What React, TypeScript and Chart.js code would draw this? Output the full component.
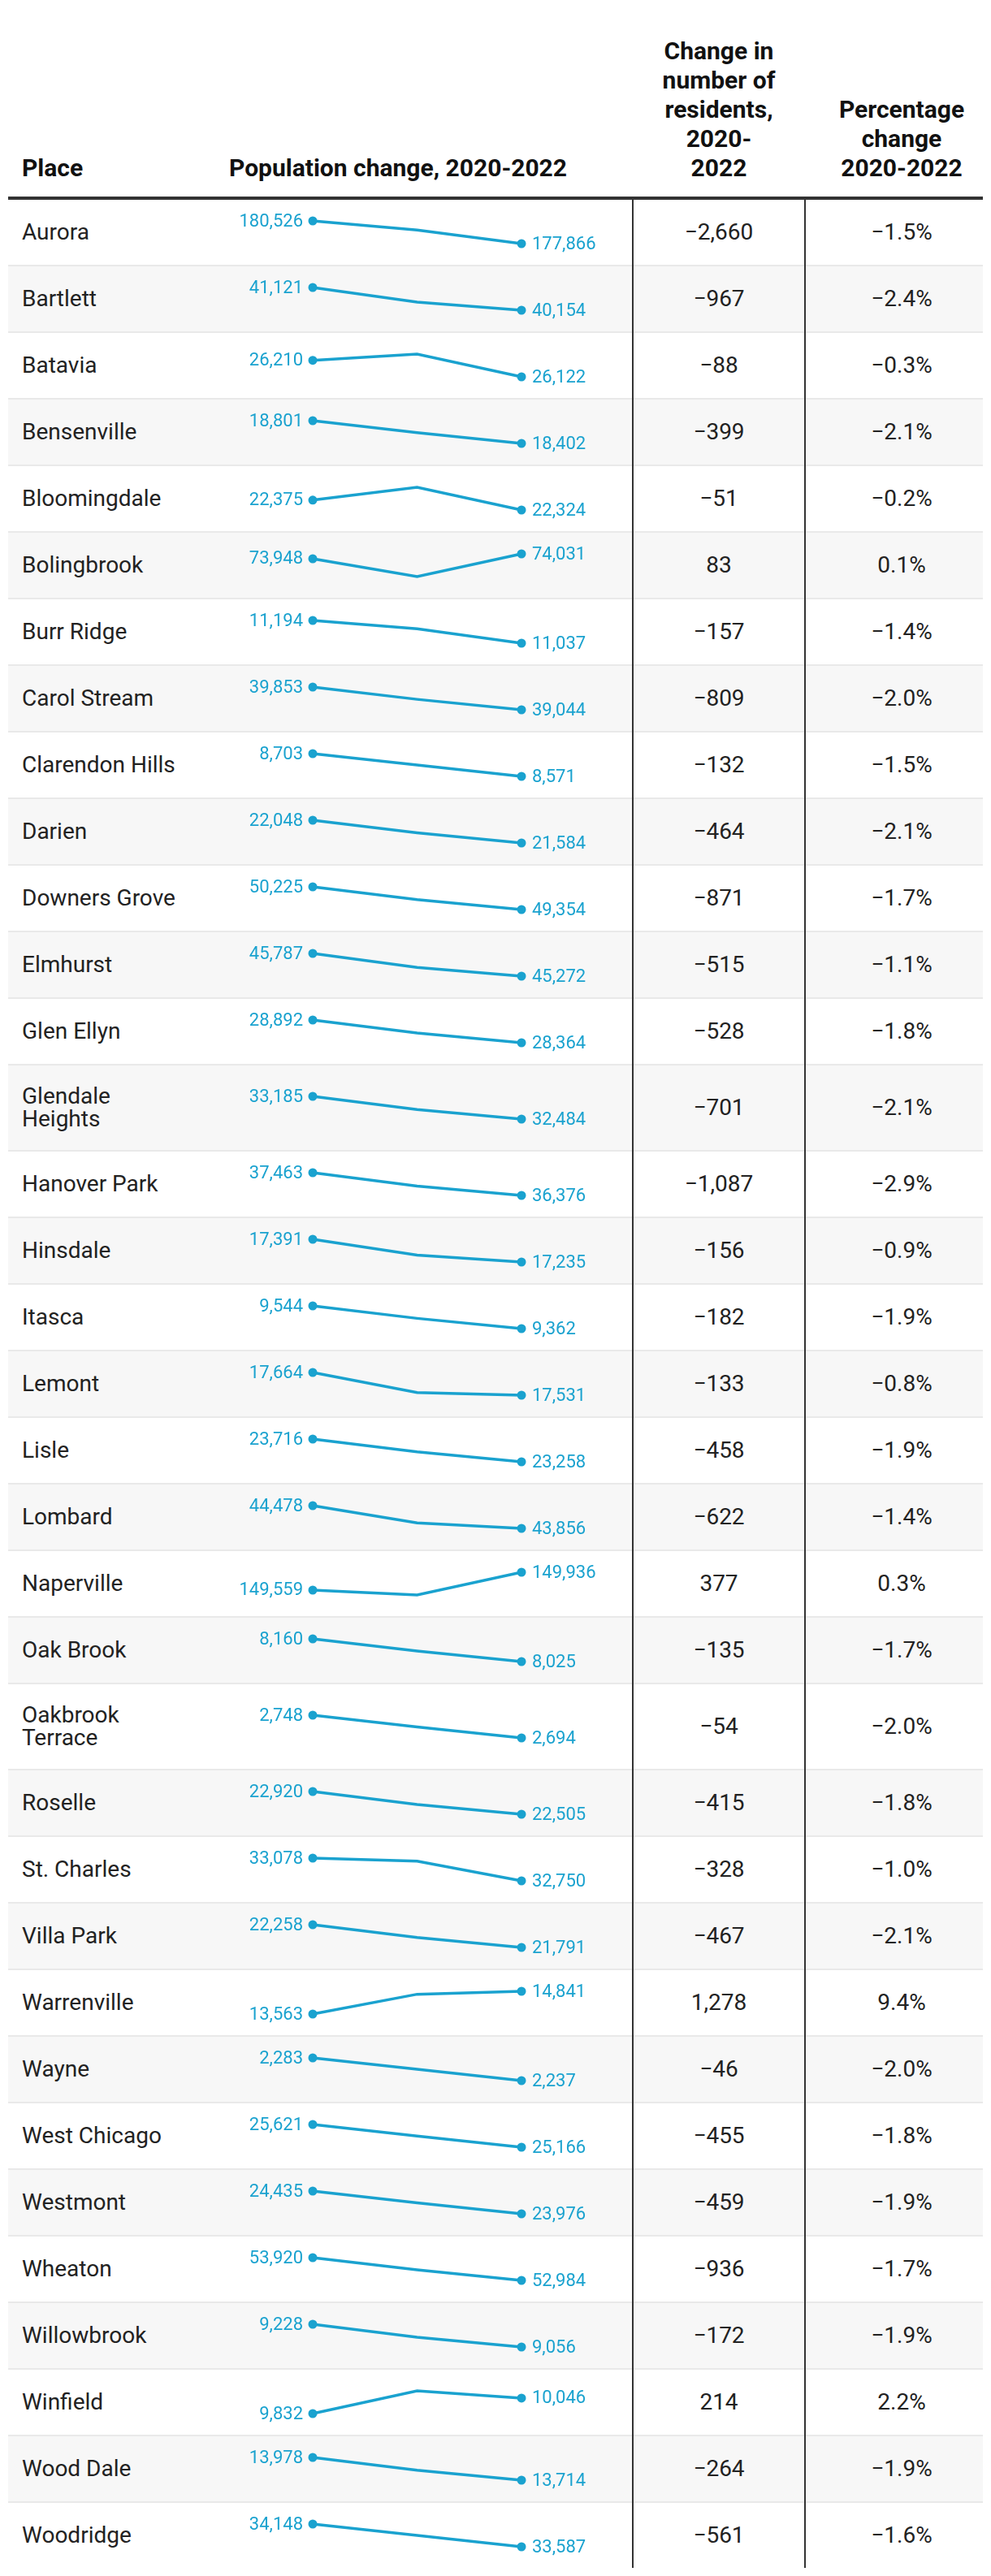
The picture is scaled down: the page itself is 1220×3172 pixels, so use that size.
import React, { useEffect, useRef } from "react";
import { Chart, registerables } from "chart.js";

Chart.register(...registerables);

const places = [
  "Aurora", "Bartlett", "Batavia", "Bensenville", "Bloomingdale", "Bolingbrook", "Burr Ridge",
  "Carol Stream", "Clarendon Hills", "Darien", "Downers Grove", "Elmhurst", "Glen Ellyn",
  "Glendale\nHeights", "Hanover Park", "Hinsdale", "Itasca", "Lemont", "Lisle", "Lombard",
  "Naperville", "Oak Brook", "Oakbrook\nTerrace", "Roselle", "St. Charles", "Villa Park",
  "Warrenville", "Wayne", "West Chicago", "Westmont", "Wheaton", "Willowbrook", "Winfield",
  "Wood Dale", "Woodridge",
];

const years = ["2020", "2021", "2022"];

const pop2020 = [
  180526, 41121, 26210, 18801, 22375, 73948, 11194, 39853, 8703, 22048, 50225, 45787, 28892,
  33185, 37463, 17391, 9544, 17664, 23716, 44478, 149559, 8160, 2748, 22920, 33078, 22258,
  13563, 2283, 25621, 24435, 53920, 9228, 9832, 13978, 34148,
];

const pop2021 = [
  179462, 40502, 26243, 18590, 22441, 73643, 11137, 39416, 8637, 21793, 49737, 45468, 28591,
  32778, 36822, 17283, 9444, 17547, 23460, 44005, 149456, 8088, 2720, 22683, 33035, 21997,
  14675, 2260, 25389, 24196, 53415, 9130, 10146, 13830, 33868,
];

const pop2022 = [
  177866, 40154, 26122, 18402, 22324, 74031, 11037, 39044, 8571, 21584, 49354, 45272, 28364,
  32484, 36376, 17235, 9362, 17531, 23258, 43856, 149936, 8025, 2694, 22505, 32750, 21791,
  14841, 2237, 25166, 23976, 52984, 9056, 10046, 13714, 33587,
];

const changeLabels = [
  "−2,660", "−967", "−88", "−399", "−51", "83", "−157", "−809", "−132", "−464", "−871", "−515",
  "−528", "−701", "−1,087", "−156", "−182", "−133", "−458", "−622", "377", "−135", "−54",
  "−415", "−328", "−467", "1,278", "−46", "−455", "−459", "−936", "−172", "214", "−264", "−561",
];

const pctLabels = [
  "−1.5%", "−2.4%", "−0.3%", "−2.1%", "−0.2%", "0.1%", "−1.4%", "−2.0%", "−1.5%", "−2.1%",
  "−1.7%", "−1.1%", "−1.8%", "−2.1%", "−2.9%", "−0.9%", "−1.9%", "−0.8%", "−1.9%", "−1.4%",
  "0.3%", "−1.7%", "−2.0%", "−1.8%", "−1.0%", "−2.1%", "9.4%", "−2.0%", "−1.8%", "−1.9%",
  "−1.7%", "−1.9%", "2.2%", "−1.9%", "−1.6%",
];

const BLUE = "#1aa2cf";
const FONT = "Roboto, 'Noto Sans', sans-serif";
const TEXT = "#222222";

const fmt = (v: number) => v.toLocaleString("en-US");

function Spark({ values, height }: { values: number[]; height: number }) {
  const ref = useRef<HTMLCanvasElement | null>(null);
  useEffect(() => {
    if (!ref.current) return;
    const padV = (height - 28) / 2;
    const labelPlugin = {
      id: "endLabels",
      afterDatasetsDraw(chart: any) {
        const meta = chart.getDatasetMeta(0);
        const data = chart.data.datasets[0].data as number[];
        const ctx = chart.ctx as CanvasRenderingContext2D;
        const first = meta.data[0];
        const last = meta.data[meta.data.length - 1];
        ctx.save();
        ctx.font = `22px ${FONT}`;
        ctx.fillStyle = BLUE;
        ctx.textBaseline = "alphabetic";
        ctx.textAlign = "right";
        ctx.fillText(fmt(data[0]), first.x - 12, first.y + 6.5);
        ctx.textAlign = "left";
        ctx.fillText(fmt(data[data.length - 1]), last.x + 13, last.y + 6.5);
        ctx.restore();
      },
    };
    const chart = new Chart(ref.current, {
      type: "line",
      data: {
        labels: years,
        datasets: [
          {
            data: values,
            borderColor: BLUE,
            borderWidth: 3.5,
            pointRadius: [5.5, 0, 5.5],
            pointHoverRadius: 0,
            pointBackgroundColor: BLUE,
            pointBorderWidth: 0,
            tension: 0,
            clip: false as any,
          },
        ],
      },
      options: {
        animation: false,
        responsive: false,
        maintainAspectRatio: false,
        events: [],
        layout: { padding: { left: 115, right: 136, top: padV, bottom: padV } },
        plugins: { legend: { display: false }, tooltip: { enabled: false } },
        scales: {
          x: { display: false, offset: false },
          y: { display: false, min: Math.min(...values), max: Math.max(...values) },
        },
      },
      plugins: [labelPlugin],
    });
    return () => chart.destroy();
  }, [values, height]);
  return (
    <canvas
      ref={ref}
      width={508}
      height={height}
      style={{ position: "absolute", left: 260, top: 0, width: 508, height }}
    />
  );
}

export default function App() {
  const headerText: React.CSSProperties = {
    position: "absolute",
    bottom: 17,
    fontFamily: FONT,
    fontWeight: 700,
    fontSize: 30,
    lineHeight: "36px",
    color: "#111",
  };
  const cell: React.CSSProperties = {
    position: "absolute",
    top: 0,
    display: "flex",
    alignItems: "center",
    fontFamily: FONT,
    fontSize: 28,
    lineHeight: "28px",
    color: TEXT,
  };
  return (
    <div style={{ position: "relative", width: 1200, marginLeft: 2, background: "#fff" }}>
      <div style={{ position: "relative", height: 234 }}>
        <div style={{ ...headerText, left: 17 }}>Place</div>
        <div style={{ ...headerText, left: 272 }}>Population change, 2020-2022</div>
        <div style={{ ...headerText, left: 770, width: 210, textAlign: "center" }}>
          Change in<br />number of<br />residents,<br />2020-<br />2022
        </div>
        <div style={{ ...headerText, left: 990, width: 220, textAlign: "center" }}>
          Percentage<br />change<br />2020-2022
        </div>
      </div>
      <div style={{ height: 4, background: "#333" }} />
      <div style={{ position: "relative" }}>
        {places.map((name, i) => {
          const tall = name.includes("\n");
          const h = tall ? 104 : 80;
          const isLast = i === places.length - 1;
          return (
            <div
              key={name}
              style={{
                position: "relative",
                height: h,
                background: i % 2 === 1 ? "#f7f7f7" : "#ffffff",
                borderBottom: isLast ? "none" : "2px solid #e9e9e9",
              }}
            >
              <div style={{ ...cell, left: 17, height: h, whiteSpace: "pre-line" }}>{name}</div>
              <Spark values={[pop2020[i], pop2021[i], pop2022[i]]} height={h} />
              <div style={{ ...cell, left: 770, width: 210, height: h, justifyContent: "center" }}>
                {changeLabels[i]}
              </div>
              <div style={{ ...cell, left: 990, width: 220, height: h, justifyContent: "center" }}>
                {pctLabels[i]}
              </div>
            </div>
          );
        })}
        <div style={{ position: "absolute", left: 768, width: 2, top: 0, bottom: 0, background: "#333" }} />
        <div style={{ position: "absolute", left: 980, width: 2, top: 0, bottom: 0, background: "#333" }} />
      </div>
    </div>
  );
}
